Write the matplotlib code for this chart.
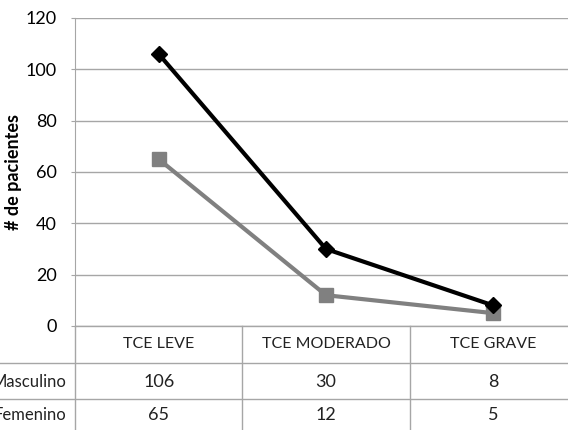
import matplotlib.pyplot as plt

# Datos
categorias = ['TCE LEVE', 'TCE MODERADO', 'TCE GRAVE']
series = ['Masculino', 'Femenino']
masculino = [106, 30, 8]
femenino = [65, 12, 5]
yticks = [0, 20, 40, 60, 80, 100, 120]

plt.rcParams['font.family'] = ['Lato', 'DejaVu Sans']

W, H = 568, 430
fig = plt.figure(figsize=(W / 100, H / 100), dpi=100)

# Area del grafico en pixeles: x 75..577, y 18..326
left, right, top, bottom = 75, 577, 18, 326
ax = fig.add_axes([left / W, 1 - bottom / H, (right - left) / W, (bottom - top) / H])

x = list(range(len(categorias)))
ax.plot(x, masculino, color='black', lw=3, marker='D', ms=8, zorder=4)
ax.plot(x, femenino, color='#808080', lw=3, marker='s', ms=10, zorder=3)

ax.set_xlim(-0.5, len(categorias) - 0.5)
ax.set_ylim(0, 120)
ax.set_yticks(yticks)
ax.set_xticks([])
ax.yaxis.grid(True, color='#a6a6a6', lw=1)
ax.set_axisbelow(True)
for s in ['top', 'right', 'bottom']:
    ax.spines[s].set_visible(False)
ax.spines['left'].set_color('#a6a6a6')
ax.tick_params(axis='y', length=3, color='#a6a6a6', labelsize=13, pad=10)
ax.set_ylabel('# de pacientes', fontsize=13, fontweight='bold')
ax.yaxis.set_label_coords((22 - left) / (right - left), 0.5)

# Tabla de datos debajo del grafico (coordenadas en pixeles de la figura)
def fy(py):
    return 1 - py / H

def fx(px):
    return px / W

line_col = '#a6a6a6'
row_edges = [326, 363, 399, 440]
# lineas horizontales
fig.add_artist(plt.Line2D([fx(left), fx(W)], [fy(326), fy(326)], color=line_col, lw=1))
for py in row_edges[1:3]:
    fig.add_artist(plt.Line2D([0, 1], [fy(py), fy(py)], color=line_col, lw=1))
# lineas verticales
col_edges = [left + i * (right - left) / len(categorias) for i in range(len(categorias) + 1)]
for px in col_edges[:-1]:
    fig.add_artist(plt.Line2D([fx(px), fx(px)], [fy(326), 0], color=line_col, lw=1))

# encabezados
for i, cat in enumerate(categorias):
    cx = (col_edges[i] + col_edges[i + 1]) / 2
    fig.text(fx(cx), fy((row_edges[0] + row_edges[1]) / 2), cat, ha='center', va='center',
             fontsize=11.5, color='#222222')

valores = [masculino, femenino]
for r, (nombre, vals) in enumerate(zip(series, valores)):
    cy = 382 if r == 0 else 415
    fig.text(fx(left - 9), fy(cy), nombre, ha='right', va='center', fontsize=12, color='#222222')
    for i, v in enumerate(vals):
        cx = (col_edges[i] + col_edges[i + 1]) / 2
        fig.text(fx(cx), fy(cy), str(v), ha='center', va='center', fontsize=13, color='#222222')

fig.savefig('out.png', dpi=100)
